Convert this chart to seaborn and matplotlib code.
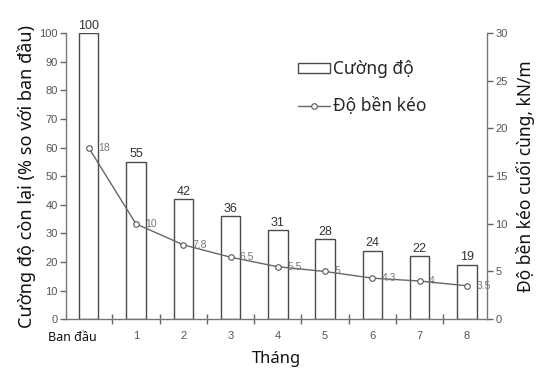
import numpy as np
import matplotlib
matplotlib.use("Agg")
import matplotlib.pyplot as plt
import pandas as pd
import seaborn as sns

thang = ["Ban đầu", "1", "2", "3", "4", "5", "6", "7", "8"]
cuong_do = [100, 55, 42, 36, 31, 28, 24, 22, 19]
do_ben_keo = [18, 10, 7.8, 6.5, 5.5, 5, 4.3, 4, 3.5]
do_ben_labels = ["18", "10", "7.8", "6.5", "5.5", "5", "4.3", "4", "3.5"]

sns.set_theme(style="white")
plt.rcParams["font.family"] = ["Noto Sans", "DejaVu Sans"]

df = pd.DataFrame({"thang": thang, "cuong_do": cuong_do, "do_ben": do_ben_keo})
df["pos"] = np.arange(len(df))

edge = "#4a4a4a"
tick_col = "#555555"
num_family = ["Liberation Sans", "DejaVu Sans"]
tick_font = {"family": num_family, "size": 8, "color": tick_col}

fig = plt.figure(figsize=(5.49, 3.72), dpi=100)
ax = fig.add_axes([0.120, 0.142, 0.767, 0.769])

sns.barplot(data=df, x="thang", y="cuong_do", order=thang, color="white",
            edgecolor=edge, linewidth=1.0, width=0.41, ax=ax,
            label="Cường độ")
for container in ax.containers:
    ax.bar_label(container, labels=[str(v) for v in cuong_do], padding=1,
                 fontsize=9, color="#333333", family=num_family)
h1, l1 = ax.get_legend_handles_labels()
if ax.get_legend() is not None:
    ax.get_legend().remove()

ax.set_ylim(0, 100)
ax.set_xlim(-0.48, 8.42)
ax.set_yticks(range(0, 101, 10))
ax.set_yticklabels([str(v) for v in range(0, 101, 10)], fontdict=tick_font)
ax.set_xticks(df["pos"])
ax.set_xticklabels(["" for _ in thang])
ax.set_xticks(df["pos"][:-1] + 0.5, minor=True)
ax.tick_params(axis="x", which="major", bottom=True, length=0, pad=6)
ax.tick_params(axis="x", which="minor", bottom=True, length=7, direction="inout",
               width=1, color="#666666")
ax.tick_params(axis="y", length=4, width=1, color="#666666", direction="out", left=True, pad=2)
for p, t in zip(df["pos"], thang):
    if p == 0:
        ax.text(p - 0.35, -4, t, ha="center", va="top", fontsize=9, color="#111111",
                clip_on=False)
    else:
        ax.text(p, -4, t, ha="center", va="top", clip_on=False,
                fontsize=8, color=tick_col, family=num_family)

ax.set_xlabel("Tháng", fontsize=12, color="#111111", labelpad=16)
ax.set_ylabel("Cường độ còn lại (% so với ban đầu)", fontsize=13, color="#111111", labelpad=2)

ax2 = ax.twinx()
sns.lineplot(data=df, x="pos", y="do_ben", ax=ax2, color="#666666", linewidth=1.0,
             marker="o", markersize=4, markerfacecolor="white", markeredgecolor="#555555",
             markeredgewidth=0.8, label="Độ bền kéo", legend=False)
for p, v, lab in zip(df["pos"], do_ben_keo, do_ben_labels):
    ax2.text(p + 0.2, v, lab, fontsize=7.5, color="#777777", va="center", ha="left",
             family=num_family)
ax2.set_ylim(0, 30)
ax2.set_xlim(-0.48, 8.42)
ax2.set_yticks(range(0, 31, 5))
ax2.set_yticklabels([str(v) for v in range(0, 31, 5)], fontdict=tick_font)
ax2.tick_params(axis="y", length=4, width=1, color="#666666", direction="out", right=True, pad=2)
ax2.set_xlabel("")
ax2.set_ylabel("Độ bền kéo cuối cùng, kN/m", fontsize=12.5, color="#111111", labelpad=6)

for a in (ax, ax2):
    a.spines["top"].set_visible(False)
    for s in ("left", "right", "bottom"):
        a.spines[s].set_color("#777777")
        a.spines[s].set_linewidth(1.0)
ax.spines["right"].set_visible(False)
ax2.spines["left"].set_visible(False)
ax2.spines["bottom"].set_visible(False)

h2, l2 = ax2.get_legend_handles_labels()
ax2.legend(h1 + h2, l1 + l2, loc="upper left", bbox_to_anchor=(0.515, 0.96), frameon=False,
           fontsize=12.5, handlelength=1.8, handletextpad=0.2, labelspacing=1.1,
           handleheight=0.5)

fig.savefig("out.png", dpi=100)
